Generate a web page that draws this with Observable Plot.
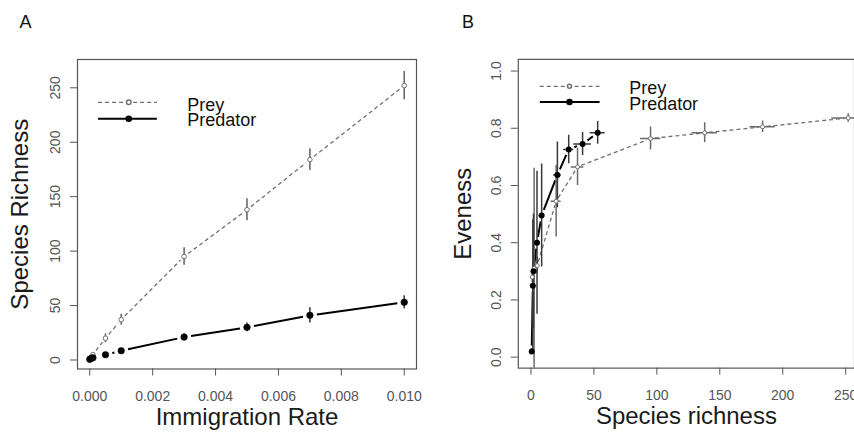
<!DOCTYPE html>
<html><head><meta charset="utf-8">
<script src="https://cdn.jsdelivr.net/npm/d3@7"></script>
<script src="https://cdn.jsdelivr.net/npm/@observablehq/plot@0.6"></script>
<style>
body{margin:0;background:#fff;}
#wrap{position:relative;width:854px;height:438px;overflow:hidden;font-family:"Liberation Sans",Arial,sans-serif;}
.panel{position:absolute;top:0;}
</style></head><body>
<div id="wrap">
 <div class="panel" id="pa" style="left:0px"></div>
 <div class="panel" id="pb" style="left:430px"></div>
</div>
<script>
// ---- data ----
const immigration   = [0, 0.00005, 0.0001, 0.0005, 0.001, 0.003, 0.005, 0.007, 0.01];
const preyRichness  = [1, 2.5, 5, 20, 37, 95, 138, 184, 252];
const preyRichSD    = [0.5, 1, 1.5, 4, 5, 8, 10, 10, 13];
const predRichness  = [0.6, 1.5, 2, 4.8, 8.5, 21, 30, 41, 53];
const predRichSD    = [0.3, 0.5, 0.7, 1.2, 2, 3, 4, 7, 6];
const preyEveness   = [0.28, 0.31, 0.32, 0.545, 0.665, 0.764, 0.784, 0.805, 0.836];
const preyEvenSD    = [0.02, 0.35, 0.03, 0.125, 0.065, 0.04, 0.035, 0.02, 0.015];
const predEveness   = [0.02, 0.25, 0.30, 0.40, 0.495, 0.637, 0.726, 0.745, 0.784];
const predEvenSD    = [0.01, 0.23, 0.2, 0.25, 0.18, 0.115, 0.05, 0.04, 0.04];
const xTicksA = [0, 0.002, 0.004, 0.006, 0.008, 0.010];
const yTicksA = [0, 50, 100, 150, 200, 250];
const xTicksB = [0, 50, 100, 150, 200, 250];
const yTicksB = [0, 0.2, 0.4, 0.6, 0.8, 1.0];
const seriesNames = ["Prey", "Predator"];

// ---- helpers ----
const rows = immigration.map((m, i) => ({
  m,
  prey: preyRichness[i], preySD: preyRichSD[i],
  pred: predRichness[i], predSD: predRichSD[i],
  preyE: preyEveness[i], preyESD: preyEvenSD[i],
  predE: predEveness[i], predESD: predEvenSD[i]
}));
function segs(xs, ys) {
  return xs.slice(1).map((_, i) => ({x1: xs[i], y1: ys[i], x2: xs[i + 1], y2: ys[i + 1]}));
}
const FONT = '"Liberation Sans", Arial, sans-serif';
const PREY = "#707070", PRED = "#000", BAR_PREY = "#6a6a6a", BAR_PRED = "#3a3a3a", AX = "#555";
const gapLine = {x1: "x1", y1: "y1", x2: "x2", y2: "y2", headLength: 0, strokeLinecap: "butt"};

// ---- Panel A ----
const plotA = Plot.plot({
  width: 427, height: 438,
  marginLeft: 77, marginRight: 11, marginTop: 59, marginBottom: 69.5,
  style: {fontFamily: FONT, fontSize: "14px", background: "transparent"},
  x: {type: "linear", domain: [-0.00039, 0.01039]},
  y: {type: "linear", domain: [-8.28, 276.0]},
  marks: [
    Plot.frame({stroke: AX, strokeWidth: 1.2}),
    Plot.axisX({ticks: xTicksA, tickSize: 7, tickPadding: 15, tickFormat: d3.format(".3f"), label: null, color: AX, fontSize: 14}),
    Plot.axisY({ticks: yTicksA, tickSize: 7, tickFormat: () => "", label: null, color: AX}),
    Plot.text(yTicksA, {y: d => d, text: d => String(d), frameAnchor: "left", dx: -22.3, rotate: -90, textAnchor: "middle", lineAnchor: "middle", fontSize: 14, fill: AX}),
    // lines with gaps (type "b")
    Plot.arrow(segs(immigration, preyRichness), {...gapLine, insetStart: 5, insetEnd: 5, stroke: PREY, strokeWidth: 1.3, strokeDasharray: "4,3"}),
    Plot.arrow(segs(immigration, predRichness), {...gapLine, insetStart: 7, insetEnd: 7, stroke: PRED, strokeWidth: 2}),
    // error bars
    Plot.ruleX(rows, {x: "m", y1: d => d.prey - d.preySD, y2: d => d.prey + d.preySD, stroke: BAR_PREY, strokeWidth: 1.6}),
    Plot.ruleX(rows, {x: "m", y1: d => d.pred - d.predSD, y2: d => d.pred + d.predSD, stroke: BAR_PRED, strokeWidth: 1.6}),
    // points
    Plot.dot(rows, {x: "m", y: "prey", r: 2.3, fill: "white", stroke: PREY, strokeWidth: 1}),
    Plot.dot(rows, {x: "m", y: "pred", r: 3.3, fill: PRED, stroke: PRED, strokeWidth: 0.5}),
    // legend
    Plot.ruleY([236.7], {y: d => d, x1: 0.00028, x2: 0.00215, stroke: PREY, strokeWidth: 1.3, strokeDasharray: "4,3"}),
    Plot.ruleY([221.5], {y: d => d, x1: 0.00028, x2: 0.00215, stroke: PRED, strokeWidth: 2}),
    Plot.dot([236.7], {x: 0.00124, y: d => d, r: 2.3, fill: "white", stroke: PREY}),
    Plot.dot([221.5], {x: 0.00124, y: d => d, r: 3.3, fill: PRED}),
    Plot.text([seriesNames[0]], {x: 0.0031, y: 234.4, text: d => d, textAnchor: "start", lineAnchor: "middle", fontSize: 18, fill: "#111"}),
    Plot.text([seriesNames[1]], {x: 0.0031, y: 220.6, text: d => d, textAnchor: "start", lineAnchor: "middle", fontSize: 18, fill: "#111"}),
    // titles
    Plot.text(["Immigration Rate"], {frameAnchor: "bottom", dy: 48.8, text: d => d, fontSize: 24, fill: "#1a1a1a", lineAnchor: "middle"}),
    Plot.text(["Species Richness"], {frameAnchor: "left", dx: -56.7, rotate: -90, text: d => d, fontSize: 24, fill: "#1a1a1a", textAnchor: "middle", lineAnchor: "middle"}),
    Plot.text(["A"], {frameAnchor: "top-left", dx: -58, dy: -36.8, text: d => d, fontSize: 18, fill: "#111", textAnchor: "start", lineAnchor: "middle"})
  ]
});
document.getElementById("pa").appendChild(plotA);

// ---- Panel B ----
const plotB = Plot.plot({
  width: 425, height: 438,
  marginLeft: 88, marginRight: 0, marginTop: 59, marginBottom: 69.5,
  style: {fontFamily: FONT, fontSize: "14px", background: "transparent"},
  x: {type: "linear", domain: [-10.06, 257.0]},
  y: {type: "linear", domain: [-0.0383, 1.0408]},
  marks: [
    Plot.frame({stroke: AX, strokeWidth: 1.2}),
    Plot.axisX({ticks: xTicksB, tickSize: 7, tickPadding: 15, label: null, color: AX, fontSize: 14}),
    Plot.axisY({ticks: yTicksB, tickSize: 7, tickFormat: () => "", label: null, color: AX}),
    Plot.text(yTicksB, {y: d => d, text: d3.format(".1f"), frameAnchor: "left", dx: -21.7, rotate: -90, textAnchor: "middle", lineAnchor: "middle", fontSize: 14, fill: AX}),
    Plot.arrow(segs(preyRichness, preyEveness), {...gapLine, insetStart: 4, insetEnd: 4, stroke: PREY, strokeWidth: 1.3, strokeDasharray: "4,3"}),
    Plot.arrow(segs(predRichness, predEveness), {...gapLine, insetStart: 6, insetEnd: 6, stroke: PRED, strokeWidth: 2}),
    // error bars (y)
    Plot.ruleX(rows, {x: "prey", y1: d => d.preyE - d.preyESD, y2: d => d.preyE + d.preyESD, stroke: BAR_PREY, strokeWidth: 1.5, clip: true}),
    Plot.ruleX(rows, {x: "pred", y1: d => d.predE - d.predESD, y2: d => d.predE + d.predESD, stroke: BAR_PRED, strokeWidth: 1.5, clip: true}),
    // error bars (x)
    Plot.ruleY(rows, {y: "preyE", x1: d => d.prey - d.preySD, x2: d => d.prey + d.preySD, stroke: BAR_PREY, strokeWidth: 1.5, clip: true}),
    Plot.ruleY(rows, {y: "predE", x1: d => d.pred - d.predSD, x2: d => d.pred + d.predSD, stroke: BAR_PRED, strokeWidth: 1.5, clip: true}),
    Plot.dot(rows, {x: "prey", y: "preyE", r: 2, fill: "white", stroke: PREY, strokeWidth: 1}),
    Plot.dot(rows, {x: "pred", y: "predE", r: 3, fill: PRED}),
    // legend
    Plot.ruleY([0.9467], {y: d => d, x1: 7.4, x2: 54.9, stroke: PREY, strokeWidth: 1.3, strokeDasharray: "4,3"}),
    Plot.ruleY([0.892], {y: d => d, x1: 7.4, x2: 54.9, stroke: PRED, strokeWidth: 2}),
    Plot.dot([0.9467], {x: 30.6, y: d => d, r: 2, fill: "white", stroke: PREY}),
    Plot.dot([0.892], {x: 30.6, y: d => d, r: 3.3, fill: PRED}),
    Plot.text([seriesNames[0]], {x: 78.1, y: 0.9415, text: d => d, textAnchor: "start", lineAnchor: "middle", fontSize: 18, fill: "#111"}),
    Plot.text([seriesNames[1]], {x: 78.1, y: 0.883, text: d => d, textAnchor: "start", lineAnchor: "middle", fontSize: 18, fill: "#111"}),
    // titles
    Plot.text(["Species richness"], {frameAnchor: "bottom", dy: 48.8, text: d => d, fontSize: 24, fill: "#1a1a1a", lineAnchor: "middle"}),
    Plot.text(["Eveness"], {frameAnchor: "left", dx: -55, rotate: -90, text: d => d, fontSize: 24, fill: "#1a1a1a", textAnchor: "middle", lineAnchor: "middle"}),
    Plot.text(["B"], {frameAnchor: "top-left", dx: -56.3, dy: -36.8, text: d => d, fontSize: 18, fill: "#111", textAnchor: "start", lineAnchor: "middle"})
  ]
});
document.getElementById("pb").appendChild(plotB);
</script>
</body></html>
